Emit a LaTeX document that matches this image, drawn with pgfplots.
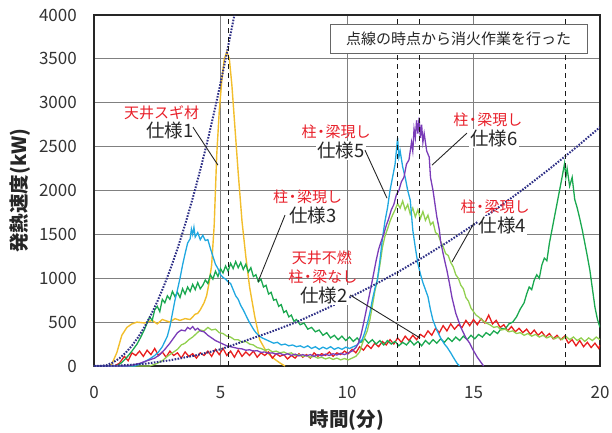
\documentclass[border=0pt]{standalone}
\usepackage{fontspec}
\setmainfont{Noto Sans CJK JP}
\usepackage{pgfplots}
\pgfplotsset{compat=1.18}
\definecolor{cYel}{HTML}{F2BE2C}
\definecolor{cRed}{HTML}{E81E1E}
\definecolor{cDG}{HTML}{1AA84F}
\definecolor{cLG}{HTML}{92D050}
\definecolor{cCy}{HTML}{20A8E0}
\definecolor{cPu}{HTML}{7A3CB8}
\definecolor{cNavy}{HTML}{2E2F86}
\definecolor{cTxt}{HTML}{E8202A}
\tikzset{
  lab/.style={font=\fontsize{18.5}{20}\selectfont, fill=white, inner sep=1pt, text=black!85},
  rl/.style={font=\fontsize{15}{17}\selectfont, text=cTxt, inner sep=1pt},
}
\begin{document}
\begin{tikzpicture}
\useasboundingbox (-94pt,-66pt) rectangle (518pt,366pt);
\begin{axis}[
  at={(0pt,0pt)}, anchor=south west,
  scale only axis, width=506pt, height=351pt,
  xmin=0, xmax=20, ymin=0, ymax=4000,
  xtick={0,5,10,15,20}, ytick={0,500,...,4000},
  grid=major, major grid style={draw=black!50, line width=0.9pt},
  axis line style={draw=black!85, line width=1.1pt},
  major tick length=0pt,
  /pgf/number format/1000 sep={},
  /pgf/number format/assume math mode=true,
  tick label style={font=\fontsize{17}{20}\selectfont, text=black!80},
  yticklabel style={anchor=east, inner sep=0pt, xshift=-17pt},
  xticklabel style={anchor=north, inner sep=0pt, yshift=-20pt},
  xlabel={時間(分)},
  ylabel={発熱速度(kW)},
  every axis x label/.style={at={(axis description cs:0.5,-0.154)}, anchor=center, font=\fontsize{19.5}{22}\selectfont\bfseries, text=black!85},
  every axis y label/.style={at={(axis description cs:-0.146,0.5)}, rotate=90, anchor=center, font=\fontsize{19.5}{22}\selectfont\bfseries, text=black!85},
  clip mode=individual,
]
% 仕様1 yellow
\addplot[cYel, line width=1.4pt] coordinates {
(0,0)(0.6,0)(0.7,20)(0.9,150)(1.1,350)(1.3,440)(1.5,480)(1.7,500)(2.0,490)(2.3,520)(2.5,480)(2.7,530)(3.0,500)(3.2,540)(3.4,520)(3.6,540)(3.8,530)(3.9,560)(4.0,590)(4.1,600)(4.2,640)(4.35,720)(4.45,800)(4.55,950)(4.65,1150)(4.75,1600)(4.85,2400)(4.95,2900)(5.05,3250)(5.15,3500)(5.25,3580)(5.35,3500)(5.45,3200)(5.5,3000)(5.6,2600)(5.7,2200)(5.85,1650)(6.0,1250)(6.15,900)(6.35,570)(6.55,300)(6.8,170)(7.0,110)(7.2,65)(7.4,25)(7.55,0)};
% 仕様2 red
\addplot[cRed, line width=1.3pt] coordinates {
(0,0)(0.8,0)(1.0,30)(1.2,110)(1.35,60)(1.5,150)(1.65,120)(1.8,170)(1.95,110)(2.1,180)(2.25,130)(2.4,200)(2.55,120)(2.7,160)(2.85,100)(3.0,170)(3.15,120)(3.3,150)(3.45,90)(3.6,160)(3.75,110)(3.9,140)(4.05,90)(4.2,150)(4.35,120)(4.5,170)(4.65,110)(4.8,190)(4.95,130)(5.1,200)(5.25,120)(5.4,170)(5.55,100)(5.7,180)(5.85,110)(6.0,160)(6.15,120)(6.3,170)(6.45,100)(6.6,150)(6.75,120)(6.9,160)(7.05,90)(7.2,140)(7.35,110)(7.5,130)(7.65,80)(7.8,120)(7.95,90)(8.1,140)(8.25,100)(8.4,130)(8.55,90)(8.7,150)(8.85,110)(9.0,140)(9.15,120)(9.3,160)(9.45,110)(9.6,150)(9.75,130)(9.9,170)(10.05,140)(10.2,190)(10.35,150)(10.5,220)(10.65,180)(10.8,240)(10.95,200)(11.1,260)(11.25,220)(11.4,280)(11.55,240)(11.7,300)(11.85,250)(12.0,320)(12.15,270)(12.3,340)(12.45,290)(12.6,350)(12.75,300)(12.9,360)(13.05,330)(13.2,400)(13.35,350)(13.5,430)(13.65,380)(13.8,460)(13.95,400)(14.1,480)(14.25,420)(14.4,470)(14.55,440)(14.7,520)(14.85,460)(15.0,530)(15.15,470)(15.3,540)(15.45,490)(15.6,580)(15.75,480)(15.9,520)(16.05,440)(16.2,470)(16.35,400)(16.5,450)(16.65,390)(16.8,430)(16.95,380)(17.1,420)(17.25,360)(17.4,410)(17.55,350)(17.7,390)(17.85,330)(18.0,370)(18.15,310)(18.3,350)(18.45,300)(18.6,340)(18.75,260)(18.9,300)(19.05,230)(19.2,290)(19.35,220)(19.5,270)(19.65,210)(19.8,260)(19.95,200)(20,240)};
% 仕様3 dark green
\addplot[cDG, line width=1.3pt] coordinates {
(0,0)(0.9,0)(1.1,40)(1.3,100)(1.5,170)(1.7,250)(1.85,330)(2.0,420)(2.1,490)(2.2,560)(2.3,520)(2.4,640)(2.5,680)(2.6,620)(2.7,760)(2.8,720)(2.9,800)(3.0,760)(3.1,850)(3.2,790)(3.3,840)(3.4,780)(3.5,880)(3.6,820)(3.7,900)(3.8,850)(3.9,930)(4.0,870)(4.1,950)(4.2,880)(4.3,920)(4.4,980)(4.5,940)(4.6,1040)(4.7,990)(4.8,1080)(4.9,1020)(5.0,1110)(5.1,1060)(5.2,1140)(5.3,1080)(5.4,1170)(5.5,1110)(5.6,1190)(5.7,1120)(5.8,1180)(5.9,1100)(6.0,1160)(6.1,1070)(6.2,1120)(6.3,1020)(6.4,1040)(6.5,960)(6.6,990)(6.7,900)(6.8,920)(6.9,820)(7.0,840)(7.1,750)(7.2,760)(7.3,680)(7.4,700)(7.5,610)(7.6,630)(7.7,560)(7.8,580)(7.9,510)(8.0,530)(8.15,470)(8.3,490)(8.45,420)(8.6,440)(8.75,390)(8.9,410)(9.05,350)(9.2,380)(9.35,320)(9.5,350)(9.65,300)(9.8,340)(9.95,290)(10.1,330)(10.25,280)(10.4,320)(10.55,270)(10.7,310)(10.85,260)(11.0,300)(11.15,250)(11.3,290)(11.45,240)(11.6,290)(11.75,250)(11.9,280)(12.05,230)(12.2,270)(12.35,240)(12.5,290)(12.65,240)(12.8,280)(12.95,230)(13.1,290)(13.25,250)(13.4,300)(13.55,260)(13.7,310)(13.85,270)(14.0,320)(14.15,280)(14.3,330)(14.45,290)(14.6,340)(14.75,300)(14.9,350)(15.05,310)(15.2,360)(15.35,330)(15.5,380)(15.65,350)(15.8,400)(15.95,370)(16.1,430)(16.25,420)(16.4,480)(16.55,500)(16.7,560)(16.85,650)(17.0,720)(17.1,820)(17.2,900)(17.3,870)(17.4,980)(17.5,1040)(17.6,1000)(17.7,1150)(17.8,1230)(17.9,1200)(18.0,1400)(18.1,1550)(18.2,1700)(18.3,1850)(18.4,2000)(18.5,2150)(18.6,2310)(18.65,2150)(18.7,2250)(18.8,2050)(18.9,2150)(19.0,1900)(19.1,1800)(19.2,1680)(19.3,1550)(19.4,1400)(19.5,1250)(19.6,1090)(19.7,880)(19.8,670)(19.9,530)(20,440)};
% 仕様4 light green
\addplot[cLG, line width=1.3pt] coordinates {
(0,0)(2.2,0)(2.5,30)(2.7,60)(2.9,110)(3.1,150)(3.3,190)(3.45,240)(3.6,260)(3.75,300)(3.9,330)(4.05,370)(4.2,410)(4.35,400)(4.5,440)(4.65,410)(4.8,420)(4.95,380)(5.1,370)(5.25,340)(5.4,330)(5.55,300)(5.7,300)(5.85,270)(6.0,280)(6.15,250)(6.3,240)(6.45,210)(6.6,200)(6.75,180)(6.9,190)(7.05,160)(7.2,170)(7.35,150)(7.5,160)(7.65,140)(7.8,150)(7.95,120)(8.1,130)(8.25,110)(8.4,120)(8.55,100)(8.7,110)(8.85,90)(9.0,100)(9.15,80)(9.3,95)(9.45,75)(9.6,90)(9.75,70)(9.9,85)(10.05,70)(10.2,90)(10.35,110)(10.5,160)(10.6,250)(10.7,330)(10.8,400)(10.9,520)(11.0,680)(11.1,850)(11.2,980)(11.3,1150)(11.4,1350)(11.5,1480)(11.6,1560)(11.7,1650)(11.8,1720)(11.9,1780)(12.0,1850)(12.1,1800)(12.2,1880)(12.3,1780)(12.4,1840)(12.5,1730)(12.6,1800)(12.7,1700)(12.8,1780)(12.9,1680)(13.0,1760)(13.1,1660)(13.2,1720)(13.3,1610)(13.4,1640)(13.5,1520)(13.6,1500)(13.7,1420)(13.8,1360)(13.9,1280)(14.0,1260)(14.1,1180)(14.2,1130)(14.3,1040)(14.4,1000)(14.5,920)(14.6,880)(14.7,780)(14.8,740)(14.9,660)(15.0,620)(15.1,580)(15.2,560)(15.35,520)(15.5,490)(15.65,470)(15.8,440)(15.95,450)(16.1,410)(16.25,420)(16.4,390)(16.55,400)(16.7,370)(16.85,380)(17.0,350)(17.15,370)(17.3,340)(17.45,360)(17.6,330)(17.75,350)(17.9,320)(18.05,340)(18.2,310)(18.35,330)(18.5,300)(18.65,340)(18.8,300)(18.95,330)(19.1,290)(19.25,320)(19.4,280)(19.55,320)(19.7,290)(19.85,330)(20,300)};
% 仕様5 cyan
\addplot[cCy, line width=1.3pt] coordinates {
(0,0)(1.6,0)(1.8,20)(2.0,50)(2.2,80)(2.4,120)(2.55,160)(2.7,220)(2.8,280)(2.9,340)(3.0,450)(3.1,600)(3.2,750)(3.3,870)(3.4,1000)(3.5,1150)(3.6,1280)(3.7,1400)(3.8,1450)(3.85,1560)(3.9,1500)(3.95,1580)(4.0,1470)(4.1,1520)(4.2,1440)(4.3,1490)(4.4,1430)(4.5,1440)(4.6,1340)(4.7,1250)(4.8,1160)(4.9,1110)(5.0,1040)(5.1,1010)(5.2,990)(5.3,960)(5.4,940)(5.5,870)(5.6,800)(5.7,760)(5.8,690)(5.9,640)(6.0,580)(6.1,520)(6.2,470)(6.3,420)(6.4,380)(6.5,350)(6.65,320)(6.8,300)(6.95,280)(7.1,260)(7.25,270)(7.4,240)(7.55,250)(7.7,230)(7.85,240)(8.0,220)(8.15,230)(8.3,210)(8.45,230)(8.6,200)(8.75,220)(8.9,190)(9.05,215)(9.2,195)(9.35,220)(9.5,190)(9.65,210)(9.8,190)(9.95,215)(10.1,200)(10.25,220)(10.4,240)(10.5,270)(10.6,300)(10.7,380)(10.8,480)(10.9,600)(11.0,750)(11.1,880)(11.2,980)(11.3,1200)(11.4,1450)(11.5,1650)(11.6,1800)(11.7,2000)(11.8,2150)(11.9,2300)(11.95,2450)(12.0,2600)(12.05,2380)(12.1,2450)(12.2,2270)(12.3,2150)(12.4,2000)(12.5,1890)(12.6,1550)(12.7,1350)(12.8,1170)(12.9,1050)(13.0,950)(13.1,870)(13.2,790)(13.3,640)(13.4,520)(13.55,410)(13.7,320)(13.85,250)(13.95,216)(14.1,150)(14.2,100)(14.35,30)(14.45,0)};
% 仕様6 purple
\addplot[cPu, line width=1.3pt] coordinates {
(0,0)(1.3,0)(1.5,10)(1.8,30)(2.1,60)(2.4,90)(2.6,130)(2.8,190)(3.0,260)(3.15,320)(3.3,380)(3.45,410)(3.6,400)(3.7,440)(3.8,420)(3.9,450)(4.0,410)(4.1,430)(4.2,400)(4.35,390)(4.5,350)(4.65,320)(4.8,290)(4.95,270)(5.1,250)(5.25,230)(5.4,220)(5.55,210)(5.7,200)(5.85,195)(6.0,180)(6.15,185)(6.3,170)(6.45,175)(6.6,155)(6.75,160)(6.9,145)(7.05,150)(7.2,135)(7.35,145)(7.5,125)(7.65,140)(7.8,120)(7.95,135)(8.1,115)(8.25,130)(8.4,115)(8.55,130)(8.7,110)(8.85,130)(9.0,115)(9.15,135)(9.3,120)(9.45,140)(9.6,125)(9.75,145)(9.9,130)(10.05,150)(10.2,170)(10.35,210)(10.45,260)(10.55,350)(10.65,480)(10.75,620)(10.85,760)(10.95,900)(11.05,1050)(11.15,1200)(11.25,1330)(11.35,1420)(11.45,1500)(11.55,1600)(11.65,1680)(11.75,1780)(11.85,1840)(11.95,1950)(12.05,2000)(12.15,2100)(12.25,2150)(12.35,2300)(12.45,2350)(12.55,2550)(12.6,2450)(12.65,2700)(12.7,2600)(12.75,2800)(12.8,2650)(12.85,2830)(12.9,2600)(12.95,2750)(13.0,2550)(13.05,2650)(13.15,2450)(13.25,2380)(13.3,2150)(13.4,2000)(13.5,1800)(13.55,1700)(13.65,1550)(13.7,1420)(13.8,1280)(13.9,1150)(13.95,1090)(14.05,940)(14.15,780)(14.2,720)(14.3,600)(14.4,520)(14.5,440)(14.6,380)(14.7,320)(14.85,260)(14.95,200)(15.05,150)(15.15,100)(15.25,60)(15.35,20)(15.4,0)};
% design fire curves (dotted)
\addplot[cNavy, line width=2pt, dash pattern=on 1.6pt off 1.4pt] coordinates {
(0,0)(0.25,0)(0.5,11)(0.75,40)(1,86)(1.25,150)(1.5,231)(1.75,330)(2,447)(2.25,581)(2.5,733)(2.75,903)(3,1090)(3.25,1295)(3.5,1517)(3.75,1757)(4,2015)(4.25,2290)(4.5,2582)(4.75,2893)(5,3221)(5.25,3567)(5.5,3930)(5.55,4000)};
\addplot[cNavy, line width=2pt, dash pattern=on 1.6pt off 1.4pt] coordinates {
(0,0)(1,5)(2,25)(3,65)(4,120)(5,190)(6,290)(7,390)(8,500)(9,630)(10,766)(11,913)(12,1069)(13,1238)(14,1417)(15,1609)(16,1810)(17,2022)(18,2245)(19,2478)(20,2722)};
% extinguishing start lines
\addplot[black!90, line width=1.1pt, dash pattern=on 5pt off 4pt] coordinates {(5.3,0)(5.3,4000)};
\addplot[black!90, line width=1.1pt, dash pattern=on 5pt off 4pt] coordinates {(12.0,0)(12.0,4000)};
\addplot[black!90, line width=1.1pt, dash pattern=on 5pt off 4pt] coordinates {(12.85,0)(12.85,4000)};
\addplot[black!90, line width=1.1pt, dash pattern=on 5pt off 4pt] coordinates {(18.65,0)(18.65,4000)};
% note box
\node[draw=black!60, line width=0.9pt, fill=white, minimum width=257pt, minimum height=29pt, inner sep=0pt, font=\fontsize{15}{17}\selectfont, text=black!85] at (axis cs:14.41,3730) {点線の時点から消火作業を行った};
% labels
\node[rl] at (axis cs:2.67,2882) {天井スギ材};
\node[lab] at (axis cs:3.0,2688) {仕様1};
\draw[black!85, line width=0.9pt] (axis cs:3.91,2722) -- (axis cs:4.90,2289);
\node[rl] at (axis cs:9.57,2665) {柱\kern-3pt・\kern-3pt梁現し};
\node[lab] at (axis cs:9.76,2460) {仕様5};
\draw[black!85, line width=0.9pt] (axis cs:10.71,2460) -- (axis cs:11.58,1913);
\node[rl] at (axis cs:15.57,2802) {柱\kern-3pt・\kern-3pt梁現し};
\node[lab] at (axis cs:15.81,2597) {仕様6};
\draw[black!85, line width=0.9pt] (axis cs:14.74,2654) -- (axis cs:13.36,2289);
\node[rl] at (axis cs:8.44,1925) {柱\kern-3pt・\kern-3pt梁現し};
\node[lab] at (axis cs:8.66,1720) {仕様3};
\draw[black!85, line width=0.9pt] (axis cs:7.55,1720) -- (axis cs:6.48,957);
\node[rl] at (axis cs:15.85,1811) {柱\kern-3pt・\kern-3pt梁現し};
\node[lab] at (axis cs:16.15,1606) {仕様4};
\draw[black!85, line width=0.9pt] (axis cs:15.02,1629) -- (axis cs:14.15,1185);
\node[rl] at (axis cs:9.01,1230) {天井不燃};
\node[rl] at (axis cs:9.05,1014) {柱\kern-3pt・\kern-3pt梁なし};
\node[lab] at (axis cs:9.09,809) {仕様2};
\draw[black!85, line width=0.9pt] (axis cs:10.12,809) -- (axis cs:12.89,319);
\end{axis}
\end{tikzpicture}
\end{document}
